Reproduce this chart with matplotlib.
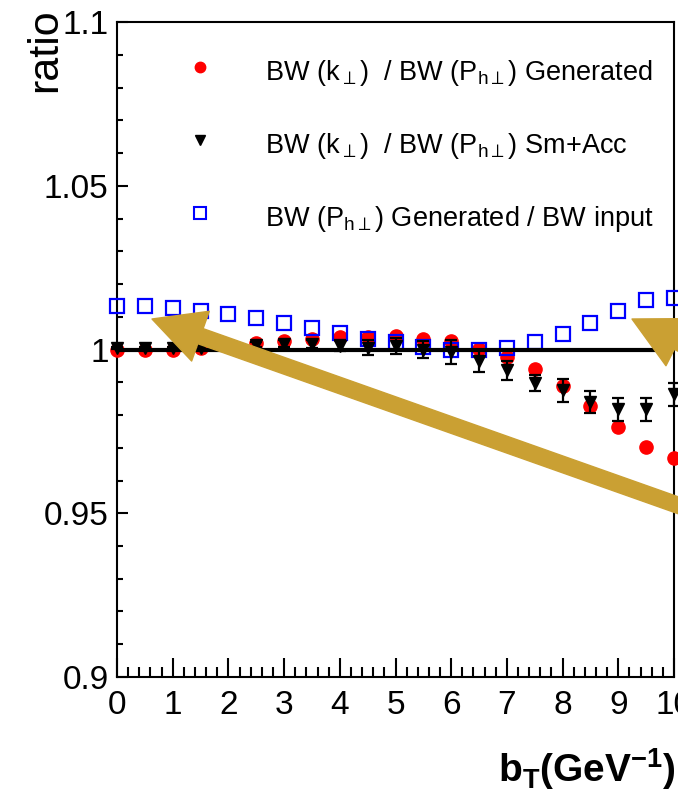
import matplotlib

matplotlib.use("Agg")
import matplotlib.pyplot as plt
from matplotlib.patches import FancyArrowPatch
from matplotlib.ticker import MultipleLocator

plt.rcParams["font.family"] = ["Liberation Sans", "DejaVu Sans"]
plt.rcParams["mathtext.fontset"] = "custom"
plt.rcParams["mathtext.rm"] = "Liberation Sans"
plt.rcParams["mathtext.it"] = "Liberation Sans:italic"
plt.rcParams["mathtext.bf"] = "Liberation Sans:bold"

# b_T bins (GeV^-1)
bt = [0, 0.5, 1, 1.5, 2, 2.5, 3, 3.5, 4, 4.5, 5, 5.5, 6, 6.5, 7, 7.5, 8, 8.5, 9, 9.5, 10]

# BW(k_perp) / BW(P_hperp), generated
gen_ratio = [0.9998, 0.9998, 0.9999, 1.0004, 1.0010, 1.0020, 1.0025, 1.0031, 1.0038, 1.0037,
             1.0040, 1.0033, 1.0025, 1.0003, 0.9978, 0.9939, 0.9890, 0.9829, 0.9763, 0.9703, 0.9670]

# BW(k_perp) / BW(P_hperp), smeared + acceptance
acc_ratio = [1.0005, 1.0005, 1.0005, 1.0005, 1.0010, 1.0015, 1.0018, 1.0018, 1.0012, 1.0006,
             1.0010, 1.0000, 0.9992, 0.9965, 0.9936, 0.9898, 0.9875, 0.9840, 0.9817, 0.9817, 0.9863]
acc_err = [0.0003, 0.0003, 0.0004, 0.0005, 0.0006, 0.0008, 0.0010, 0.0012, 0.0018, 0.0022,
           0.0025, 0.0025, 0.0037, 0.0034, 0.0029, 0.0025, 0.0035, 0.0033, 0.0034, 0.0034, 0.0036]

# BW(P_hperp) generated / BW input
inp_ratio = [1.0132, 1.0132, 1.0126, 1.0119, 1.0108, 1.0095, 1.0081, 1.0065, 1.0050, 1.0033,
             1.0022, 1.0007, 1.0000, 0.9998, 1.0005, 1.0022, 1.0046, 1.0081, 1.0119, 1.0152, 1.0157]

labels = [r"BW (k$_{\perp}$)  / BW (P$_{\mathrm{h}\perp}$) Generated",
          r"BW (k$_{\perp}$)  / BW (P$_{\mathrm{h}\perp}$) Sm+Acc",
          r"BW (P$_{\mathrm{h}\perp}$) Generated / BW input"]

W, H = 678, 794


def px(x, y):
    return (x / W, 1 - y / H)


fig = plt.figure(figsize=(W / 100, H / 100), dpi=100)
ax = fig.add_axes([117 / W, 1 - 677 / H, 557 / W, 655 / H])

ax.plot(bt, gen_ratio, "o", color="red", ms=9.5, mec="red", zorder=3, clip_on=False)
ax.plot(bt, inp_ratio, "s", mfc="none", mec="blue", ms=10.5, mew=1.6, zorder=4, clip_on=False)
ax.axhline(1.0, color="black", lw=3, zorder=5)
ax.errorbar(bt, acc_ratio, yerr=acc_err, fmt="v", color="black", ms=9, elinewidth=1.6,
            capsize=4, capthick=1.6, zorder=6, clip_on=False)

ax.set_xlim(0, 10)
ax.set_ylim(0.9, 1.1)
ax.set_xticks(range(0, 11))
ax.xaxis.set_minor_locator(MultipleLocator(0.2))
ax.set_yticks([0.9, 0.95, 1.0, 1.05, 1.1])
ax.set_yticklabels(["0.9", "0.95", "1", "1.05", "1.1"])
ax.yaxis.set_minor_locator(MultipleLocator(0.01))
ax.tick_params(axis="x", which="major", direction="in", length=14, width=1.5, labelsize=24, pad=9)
ax.tick_params(axis="x", which="minor", direction="in", length=7, width=1.5)
ax.tick_params(axis="y", which="major", direction="in", length=8, width=1.5, labelsize=24, pad=6)
ax.tick_params(axis="y", which="minor", direction="in", length=4.5, width=1.5)
for s in ax.spines.values():
    s.set_linewidth(1.5)

# legend drawn by hand, no frame
leg_y = [0.931, 0.820, 0.708]
ax.plot(0.149, leg_y[0], "o", color="red", ms=7.5, transform=ax.transAxes)
ax.plot(0.149, leg_y[1], "v", color="black", ms=7, transform=ax.transAxes)
ax.plot(0.149, leg_y[2], "s", mfc="none", mec="blue", ms=8.5, mew=1.5, transform=ax.transAxes)
for y, lab in zip(leg_y, labels):
    ax.text(0.266, y - 0.009, lab, transform=ax.transAxes, fontsize=19.5, va="center", ha="left")

fig.text(*px(45, 8), "ratio", rotation=90, ha="center", va="top", fontsize=31)
fig.text(*px(676, 782), r"$\mathbf{b_{T}(GeV^{-1})}$", ha="right", va="baseline", fontsize=28)

# gold arrows laid over the plot
style = "simple,head_length=37,head_width=38,tail_width=11.5"
gold = "#CAA033"
fig.add_artist(FancyArrowPatch(px(700, 513), px(152, 319), transform=fig.transFigure,
                               arrowstyle=style, mutation_scale=1, color=gold,
                               shrinkA=0, shrinkB=0, zorder=10))
fig.add_artist(FancyArrowPatch(px(721, 364), px(632, 319), transform=fig.transFigure,
                               arrowstyle=style, mutation_scale=1, color=gold,
                               shrinkA=0, shrinkB=0, zorder=10))

fig.savefig("out.png", dpi=100)
